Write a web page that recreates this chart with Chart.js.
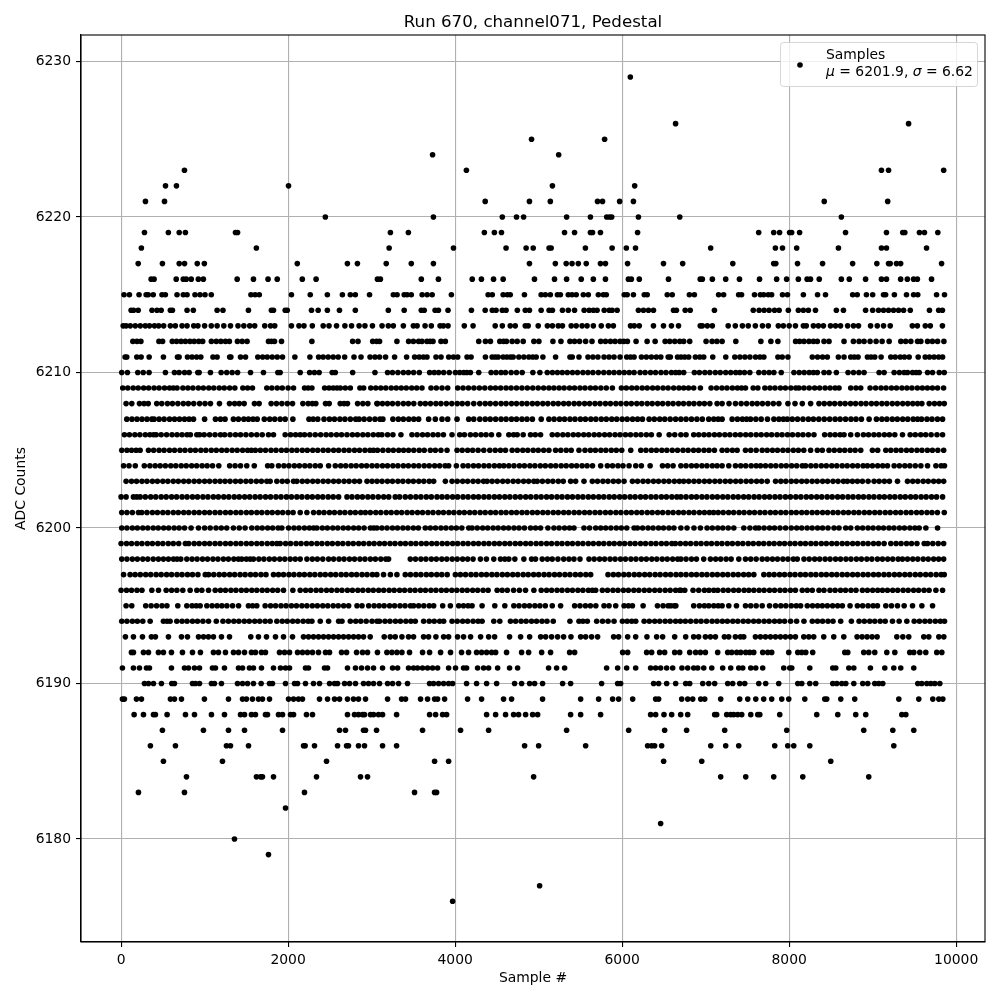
<!DOCTYPE html>
<html><head><meta charset="utf-8">
<style>html,body{margin:0;padding:0;background:#fff}canvas{display:block}</style>
<script src="https://cdn.jsdelivr.net/npm/chart.js@4"></script></head>
<body><canvas id="c" width="1000" height="1000"></canvas>
<script>
const chartTitle = "Run 670, channel071, Pedestal";
const xLabel = "Sample #";
const yLabel = "ADC Counts";
const seriesLabel = "Samples";
const xTicks = [0,2000,4000,6000,8000,10000];
const yTicks = [6180,6190,6200,6210,6220,6230];
// Sample numbers, one array per ADC level
const s6229=[6098];
const s6226=[6640,9430];
const s6225=[4915,5790];
const s6224=[3730,5240];
const s6223=[759,4135,9105,9190,9850];
const s6222=[532,663,2005,5165,6150];
const s6221=[292,520,4360,4890,5140,5705,5765,5970,6135,8420,9180];
const s6220=[2446,3740,4565,4735,4820,5335,5620,5815,5850,5875,6195,6690,8625];
const s6219=[280,566,696,770,1370,1395,3225,3440,4350,4470,4555,5310,5430,5620,5645,5740,6185,7635,7815,7885,8005,8030,8125,8675,9165,9360,9385,9560,9620,9780];
const s6218=[243,1620,3210,3980,4610,4850,4935,5125,5150,5560,5880,6050,6160,7060,7835,7920,8090,8590,9105,9165,9645];
const s6217=[205,495,696,760,912,997,2110,2710,2830,3175,3475,3740,4890,5200,5330,5400,5475,5570,5740,5800,6065,6495,6725,7325,7815,7840,8100,8400,8760,9050,9190,9210,9285,9335,9825];
const s6216=[360,395,660,745,780,840,925,985,1390,1585,1760,1870,2170,2335,3070,3105,3595,3800,4205,4315,4460,4575,4950,5190,5335,5510,5655,5800,6075,6110,6205,6555,6935,6960,7080,7240,7405,7645,7850,7970,8110,8215,8255,8360,8625,8720,8915,9105,9165,9335,9415,9490,9535,9705];
const s6215=[35,100,215,300,325,385,490,530,670,745,790,885,945,1005,1080,1555,1605,1655,2040,2265,2470,2650,2745,2805,2975,3260,3305,3390,3425,3475,3605,3665,3725,3955,4395,4445,4575,4625,4660,4830,5030,5080,5140,5225,5260,5355,5400,5450,5535,5595,5715,5775,5810,6025,6060,6135,6265,6300,6540,6600,6805,6865,7155,7215,7395,7430,7585,7655,7695,7750,7790,7920,7980,8170,8340,8435,8760,8815,8925,9000,9130,9155,9260,9405,9490,9540,9765,9860];
const s6214=[120,150,205,370,430,480,590,615,790,865,1150,1220,1525,1800,1825,1965,1990,2280,2360,2470,2615,2805,3200,3390,3595,3630,3760,3800,3915,4195,4360,4445,4490,4565,4610,4745,4840,4890,5030,5125,5165,5285,5355,5430,5545,5605,5655,5700,5785,5845,5880,5940,6195,6255,6315,6375,6615,6650,6755,6815,7105,7570,7640,7700,7760,7825,7880,7990,8110,8170,8230,8315,8565,8650,8915,9000,9070,9130,9190,9250,9310,9370,9450,9680,9790,9835];
const s6213=[25,60,110,170,230,290,340,400,450,510,590,650,730,790,870,920,1000,1080,1150,1230,1310,1400,1470,1540,1600,1720,1790,1840,2040,2130,2190,2290,2420,2490,2580,2680,2760,2850,2920,3010,3125,3200,3260,3380,3500,3545,3640,3715,3820,3860,3915,4110,4215,4480,4565,4660,4720,4840,4875,4995,5105,5165,5235,5285,5390,5450,5520,5580,5655,5750,5835,5895,6100,6145,6205,6375,6495,6590,6675,6935,6960,7020,7080,7270,7355,7440,7510,7595,7680,7750,7870,7930,8000,8075,8170,8205,8290,8350,8410,8495,8555,8615,8700,8770,8830,8975,9055,9130,9210,9475,9535,9630,9690,9835];
const s6212=[141,190,237,453,497,613,665,718,770,825,875,930,977,1081,1140,1195,1250,1297,1393,1450,1509,1765,1800,1837,1921,2285,2773,2837,3013,3060,3095,3303,3443,3500,3563,3603,3663,3700,3735,3831,3883,4283,4363,4423,4535,4580,4615,4683,4743,4815,4943,5003,5171,5267,5375,5430,5490,5563,5639,5743,5800,5860,5915,5975,6020,6063,6167,6299,6395,6515,6570,6630,6690,6737,6809,7005,7077,7135,7197,7361,7661,7781,7865,8077,8125,8177,8237,8290,8337,8417,8477,8657,8769,8837,8897,8969,9041,9113,9197,9337,9395,9457,9537,9577,9657,9715,9777,9853];
const s6211=[48,68,188,240,336,507,675,695,795,850,905,955,1100,1150,1300,1315,1430,1490,1637,1695,1750,1810,1870,1933,2081,2261,2365,2420,2480,2540,2600,2677,2789,2873,2981,3040,3095,3167,3275,3419,3515,3570,3620,3663,3771,3831,3923,3980,4031,4143,4191,4363,4443,4480,4515,4575,4620,4663,4695,4763,4823,4883,4930,4971,5051,5203,5375,5403,5483,5591,5650,5710,5783,5843,5903,5975,6055,6100,6143,6231,6290,6350,6410,6463,6551,6577,6663,6705,6750,6797,6877,6930,6977,7085,7241,7349,7410,7470,7530,7597,7650,7697,7865,7917,7985,8277,8340,8400,8457,8589,8657,8737,8780,8825,8937,8980,9025,9101,9217,9270,9330,9380,9437,9545,9629,9680,9735,9790,9837];
const s6210=[8,76,200,265,335,531,639,695,760,815,919,935,1070,1198,1265,1330,1395,1550,1705,1877,1905,2145,2258,2315,2372,2528,2565,2773,3040,3191,3250,3315,3380,3440,3503,3571,3695,3750,3803,3863,3930,4003,4055,4103,4140,4183,4283,4431,4490,4550,4603,4671,4735,4803,4931,5015,5103,5165,5225,5283,5343,5405,5465,5530,5590,5650,5715,5780,5843,5903,5965,6025,6085,6143,6215,6275,6340,6400,6465,6525,6590,6640,6683,6737,6865,6925,6990,7050,7115,7175,7240,7300,7360,7410,7465,7529,7637,7700,7760,7817,7905,8057,8120,8180,8240,8290,8337,8417,8477,8565,8705,8770,8835,8897,9077,9137,9257,9320,9377,9417,9477,9520,9557,9657,9717,9797,9857];
const s6209=[20,80,145,205,270,330,395,455,520,580,625,670,740,800,860,925,985,1050,1110,1175,1235,1300,1362,1458,1515,1573,1745,1805,1870,1930,2000,2065,2197,2240,2285,2437,2490,2540,2585,2625,2685,2745,2860,2905,2990,3050,3110,3170,3235,3295,3355,3415,3480,3540,3603,3711,3775,3843,3911,4031,4095,4160,4225,4290,4355,4423,4483,4545,4610,4670,4735,4800,4865,4930,4995,5060,5123,5183,5245,5305,5370,5430,5495,5555,5620,5680,5745,5810,5883,5991,6050,6115,6175,6240,6300,6365,6425,6490,6550,6617,6680,6737,6795,6857,6937,7065,7130,7195,7255,7320,7380,7430,7477,7569,7625,7709,7770,7830,7895,7955,8020,8080,8117,8177,8240,8305,8365,8430,8490,8550,8597,8737,8800,8857,8969,9035,9100,9160,9225,9285,9350,9410,9470,9535,9595,9655,9715,9777,9849];
const s6208=[60,128,220,275,325,427,487,555,615,680,745,805,870,940,1005,1070,1178,1298,1360,1415,1474,1597,1653,1797,1860,1925,1990,2053,2177,2240,2290,2332,2448,2492,2624,2670,2711,2832,2895,2955,3063,3071,3130,3190,3250,3315,3380,3440,3505,3583,3643,3705,3770,3830,3895,3960,4025,4085,4150,4223,4295,4360,4420,4485,4550,4610,4675,4735,4800,4860,4925,4985,5050,5110,5175,5235,5300,5360,5425,5485,5550,5610,5675,5735,5800,5860,5925,5985,6050,6110,6175,6235,6300,6360,6425,6485,6550,6610,6675,6735,6800,6860,6925,6985,7050,7137,7197,7280,7357,7425,7490,7557,7617,7680,7745,7810,7877,7985,8070,8157,8257,8357,8420,8485,8545,8610,8670,8735,8795,8860,8920,8985,9045,9110,9170,9235,9295,9360,9420,9480,9537,9589,9677,9740,9800,9857];
const s6207=[68,130,190,250,310,368,395,455,515,580,640,700,760,815,867,1000,1130,1190,1245,1345,1405,1470,1525,1580,1630,1715,1780,1840,1905,1965,2057,2250,2300,2355,2430,2495,2555,2620,2680,2745,2810,2850,2910,2975,3040,3100,3135,3255,3320,3380,3445,3505,3563,3683,3763,3843,3911,4023,4163,4223,4295,4360,4420,4485,4550,4610,4675,4735,4800,4860,4925,5031,5123,5185,5250,5310,5375,5435,5500,5560,5625,5685,5750,5810,5875,5935,6000,6060,6125,6185,6243,6323,6385,6450,6510,6575,6640,6703,6765,6830,6895,6960,7037,7097,7150,7197,7317,7380,7440,7490,7537,7601,7665,7740,7817,7877,7930,7977,8037,8100,8165,8230,8290,8355,8420,8485,8550,8610,8675,8740,8800,8865,8957,9045,9110,9170,9235,9295,9360,9420,9485,9537,9585,9650,9710,9775,9837];
const s6206=[40,100,165,225,290,345,390,420,480,545,610,670,730,790,830,907,940,995,1060,1125,1190,1240,1305,1370,1430,1495,1560,1625,1690,1765,1825,1965,2030,2090,2145,2197,2260,2325,2390,2455,2515,2580,2640,2705,2770,2830,2895,2955,3020,3080,3123,3191,3255,3351,3483,3545,3610,3670,3735,3795,3860,3963,4055,4111,4183,4245,4310,4370,4435,4523,4643,4700,4743,4815,4903,4960,5023,5163,5225,5290,5350,5415,5475,5540,5600,5665,5725,5790,5850,5915,5975,6040,6100,6165,6225,6290,6350,6443,6563,6630,6703,6765,6857,6917,6980,7040,7105,7165,7230,7290,7355,7415,7480,7540,7605,7665,7730,7790,7855,7915,7980,8040,8105,8165,8230,8297,8425,8490,8550,8610,8657,8737,8817,8889,8950,9015,9075,9140,9200,9265,9357,9449,9510,9575,9635,9700,9770,9837];
const s6205=[8,70,125,180,228,328,390,455,515,580,640,705,765,830,890,955,1015,1080,1140,1205,1265,1330,1390,1455,1515,1560,1608,1668,1730,1795,1855,1920,1980,2045,2105,2170,2230,2295,2355,2420,2480,2545,2605,2670,2730,2795,2855,2920,2980,3023,3071,3135,3200,3260,3325,3383,3443,3505,3570,3630,3703,3763,3830,3903,4023,4085,4150,4210,4275,4343,4415,4480,4543,4603,4683,4745,4810,4870,4935,4995,5060,5123,5203,5265,5330,5390,5483,5555,5620,5680,5745,5805,5870,5930,5995,6103,6223,6285,6350,6410,6475,6535,6600,6663,6729,6790,6855,6915,6980,7040,7105,7197,7257,7320,7377,7477,7540,7605,7677,7737,7800,7860,7925,7985,8050,8110,8175,8257,8337,8397,8477,8540,8605,8665,8730,8790,8857,8997,9060,9157,9217,9280,9340,9405,9465,9530,9590,9655,9715,9780,9850];
const s6204=[30,95,170,278,345,408,468,530,595,655,720,780,845,905,970,1030,1095,1170,1300,1365,1430,1505,1595,1755,1805,1885,1950,2010,2075,2135,2200,2260,2325,2385,2485,2565,2630,2690,2755,2815,2880,2940,3005,3065,3130,3190,3255,3315,3380,3440,3505,3565,3630,3690,3755,3815,3880,3923,4015,4095,4155,4220,4280,4345,4405,4470,4530,4583,4643,4705,4770,4830,4895,4955,5020,5080,5145,5205,5270,5330,5395,5455,5520,5580,5645,5743,5823,5885,5950,6010,6083,6163,6230,6335,6483,6545,6610,6703,6765,6830,6890,6955,7015,7080,7137,7197,7277,7357,7420,7480,7545,7605,7657,7717,7780,7840,7905,7965,8030,8090,8157,8197,8260,8320,8385,8445,8510,8570,8635,8695,8760,8820,8885,8937,8997,9060,9120,9177,9257,9320,9385,9445,9510,9577,9657,9757,9820,9860];
const s6203=[60,125,185,250,310,375,435,500,560,625,685,750,810,875,935,1000,1060,1125,1185,1245,1305,1370,1430,1495,1555,1620,1680,1745,1785,1865,1930,1990,2065,2105,2170,2230,2295,2355,2420,2480,2545,2605,2670,2730,2795,2855,2945,3005,3065,3125,3190,3250,3315,3375,3440,3500,3565,3625,3690,3743,3883,3963,4025,4090,4150,4215,4275,4340,4383,4443,4505,4570,4630,4695,4755,4820,4880,4943,4983,5045,5110,5170,5235,5295,5383,5443,5543,5643,5705,5770,5830,5895,5955,6023,6123,6185,6250,6310,6375,6435,6500,6560,6625,6685,6737,6797,6860,6920,6985,7045,7110,7170,7235,7295,7360,7420,7485,7545,7610,7670,7737,7837,7900,7960,8025,8085,8150,8210,8275,8335,8400,8460,8525,8585,8650,8697,8757,8817,8877,8945,9017,9077,9140,9200,9297,9417,9480,9540,9605,9665,9730,9790,9850];
const s6202=[0,60,148,188,228,290,355,415,480,540,605,665,730,790,855,915,980,1040,1105,1165,1230,1290,1355,1415,1480,1540,1605,1665,1730,1790,1855,1915,1980,2040,2105,2165,2230,2290,2355,2415,2480,2540,2605,2705,2765,2830,2890,2955,3015,3080,3145,3205,3283,3335,3403,3465,3530,3590,3655,3715,3783,3843,3905,3970,4030,4095,4155,4220,4280,4345,4405,4470,4530,4595,4655,4720,4780,4845,4905,4970,5030,5095,5155,5220,5280,5345,5405,5470,5530,5595,5655,5720,5780,5845,5905,5970,6030,6095,6155,6220,6280,6345,6405,6470,6530,6595,6655,6703,6765,6830,6890,6955,7015,7080,7140,7205,7265,7330,7390,7455,7515,7580,7640,7705,7765,7830,7890,7955,8015,8080,8140,8205,8265,8330,8390,8455,8515,8580,8640,8705,8765,8830,8890,8955,9015,9080,9140,9205,9265,9330,9390,9455,9515,9580,9640,9705,9765,9837];
const s6201=[8,70,135,208,248,310,375,435,500,560,625,685,750,810,875,935,1000,1060,1125,1185,1250,1310,1375,1435,1500,1560,1625,1685,1750,1810,1875,1935,2000,2060,2145,2225,2305,2370,2430,2495,2555,2620,2680,2745,2805,2870,2925,2985,3050,3110,3175,3235,3300,3360,3425,3485,3550,3610,3675,3735,3800,3860,3925,3985,4050,4110,4175,4235,4300,4360,4425,4485,4550,4610,4675,4735,4800,4860,4925,4985,5050,5110,5175,5235,5300,5360,5425,5485,5550,5610,5675,5735,5800,5860,5925,5985,6050,6110,6175,6235,6300,6360,6425,6485,6550,6610,6675,6735,6800,6860,6925,6985,7045,7095,7150,7210,7275,7335,7400,7460,7525,7585,7650,7710,7775,7835,7900,7960,8025,8085,8150,8210,8275,8335,8400,8460,8525,8585,8650,8710,8775,8835,8900,8960,9025,9085,9150,9210,9275,9335,9400,9460,9525,9585,9650,9710,9775,9857];
const s6200=[8,70,135,195,260,320,385,445,510,570,635,695,760,838,927,1000,1067,1137,1200,1265,1345,1415,1485,1565,1630,1690,1755,1815,1880,1925,2005,2070,2130,2195,2255,2305,2345,2410,2470,2535,2595,2660,2720,2785,2845,2910,2985,3025,3063,3123,3185,3250,3310,3375,3435,3500,3560,3643,3703,3765,3830,3890,3955,4015,4080,4163,4203,4265,4330,4390,4455,4515,4580,4640,4705,4765,4830,4903,4963,5023,5111,5183,5245,5310,5370,5423,5543,5610,5683,5743,5803,5865,5930,5990,6055,6143,6183,6245,6310,6370,6435,6495,6560,6620,6703,6777,6860,6937,7017,7080,7145,7205,7270,7337,7457,7530,7597,7637,7700,7765,7825,7890,7957,8025,8090,8150,8215,8275,8340,8400,8465,8537,8597,8677,8737,8817,8880,8945,9005,9070,9130,9195,9255,9320,9380,9445,9505,9557,9637,9777];
const s6199=[0,65,125,190,250,315,375,440,500,565,625,690,770,810,875,935,1000,1060,1125,1185,1250,1310,1375,1435,1500,1560,1625,1685,1750,1810,1865,1905,1970,2030,2095,2155,2220,2280,2345,2405,2470,2530,2595,2655,2720,2780,2845,2905,2970,3030,3095,3155,3220,3280,3345,3405,3470,3530,3595,3655,3720,3780,3845,3905,3970,4030,4095,4155,4220,4280,4345,4405,4470,4530,4595,4655,4720,4780,4845,4905,4970,5030,5095,5155,5220,5280,5345,5405,5470,5530,5595,5655,5720,5780,5845,5905,5970,6030,6095,6155,6220,6280,6345,6405,6470,6530,6595,6637,6697,6760,6820,6885,6945,7010,7070,7135,7195,7260,7320,7385,7445,7510,7570,7635,7695,7760,7820,7885,7945,8010,8070,8135,8195,8260,8320,8385,8445,8510,8570,8635,8695,8760,8820,8885,8945,9010,9070,9137,9217,9280,9340,9405,9465,9530,9617,9657,9720,9785,9850];
const s6198=[8,70,135,195,260,320,385,447,507,567,627,670,715,787,850,910,975,1035,1100,1160,1225,1285,1350,1405,1445,1500,1545,1585,1650,1710,1775,1835,1900,1960,2025,2085,2145,2225,2290,2350,2415,2485,2545,2610,2670,2735,2795,2860,2920,2985,3045,3110,3170,3203,3463,3525,3590,3650,3715,3775,3840,3900,3965,4025,4090,4150,4215,4303,4375,4463,4543,4595,4643,4715,4823,4915,4963,5043,5105,5163,5231,5300,5363,5423,5495,5603,5665,5730,5790,5855,5915,5980,6040,6105,6165,6230,6290,6355,6415,6480,6540,6605,6665,6703,6765,6830,6890,6977,7057,7120,7180,7245,7305,7397,7477,7540,7605,7677,7737,7800,7860,7925,7985,8050,8097,8177,8240,8305,8365,8430,8490,8555,8615,8680,8740,8805,8865,8930,8990,9057,9117,9180,9240,9305,9357,9417,9480,9540,9605,9665,9730,9790,9850];
const s6197=[30,108,168,230,295,355,420,480,545,605,670,730,795,855,920,1008,1048,1110,1175,1235,1300,1360,1425,1485,1550,1610,1675,1735,1825,1885,1945,2010,2070,2135,2195,2260,2320,2385,2445,2510,2570,2635,2695,2760,2820,2885,2945,3010,3063,3143,3225,3303,3403,3465,3530,3590,3655,3715,3780,3840,3905,4003,4063,4125,4190,4250,4315,4375,4440,4500,4565,4625,4690,4750,4815,4875,4940,5000,5065,5125,5190,5250,5315,5375,5440,5500,5565,5623,5831,5895,5955,6020,6080,6145,6205,6270,6330,6395,6455,6520,6580,6645,6703,6765,6830,6890,6955,7015,7080,7140,7205,7265,7330,7390,7455,7515,7577,7697,7760,7820,7885,7945,8010,8070,8135,8195,8260,8320,8385,8445,8510,8570,8635,8695,8760,8820,8885,8945,9010,9070,9135,9195,9260,9320,9385,9445,9510,9570,9635,9695,9760,9820,9857];
const s6196=[0,65,125,190,250,368,448,540,605,668,739,827,907,967,1047,1127,1190,1250,1315,1375,1440,1500,1565,1625,1690,1750,1815,1875,1945,2057,2145,2210,2270,2335,2395,2460,2520,2585,2645,2710,2770,2835,2895,2960,3020,3085,3145,3210,3270,3335,3395,3460,3520,3585,3645,3710,3770,3835,3895,3960,4020,4085,4145,4210,4270,4335,4395,4503,4563,4625,4700,4770,4843,4943,5031,5095,5155,5220,5280,5345,5405,5470,5530,5595,5643,5683,5763,5825,5890,5950,6015,6075,6140,6200,6265,6325,6390,6450,6515,6575,6640,6703,6689,6750,6849,6917,6985,7040,7097,7145,7210,7270,7335,7395,7460,7517,7577,7640,7700,7765,7825,7890,7950,8015,8075,8157,8217,8277,8357,8417,8489,8550,8615,8675,8740,8800,8877,8937,9000,9060,9117,9177,9240,9300,9365,9425,9490,9550,9615,9675,9757,9837];
const s6195=[60,128,295,360,425,490,549,679,787,850,900,947,1027,1090,1150,1207,1267,1335,1407,1525,1575,1625,1725,1790,1850,1915,1975,2040,2100,2165,2225,2290,2350,2415,2475,2540,2600,2665,2725,2825,2885,2965,3030,3090,3150,3215,3275,3340,3400,3465,3503,3563,3625,3690,3743,3851,3943,4043,4100,4155,4203,4323,4475,4595,4703,4765,4830,4890,4955,5015,5080,5163,5263,5431,5495,5560,5620,5685,5783,5843,5923,6023,6075,6123,6251,6423,6490,6550,6583,6625,6643,6857,6925,6985,7037,7097,7150,7197,7277,7369,7477,7540,7605,7677,7765,7837,7900,7960,8025,8085,8137,8217,8280,8340,8397,8457,8520,8580,8637,8729,8817,8880,8945,9005,9057,9157,9225,9297,9377,9477,9589,9717];
const s6194=[8,70,135,195,260,348,507,550,587,667,730,790,855,915,980,1047,1140,1220,1285,1350,1410,1475,1535,1600,1660,1725,1785,1865,1930,1990,2055,2115,2180,2240,2285,2385,2485,2605,2645,2745,2810,2870,2935,3005,3065,3095,3160,3220,3285,3345,3410,3470,3523,3623,3690,3750,3815,3863,3963,4025,4090,4150,4215,4275,4323,4463,4535,4663,4725,4790,4850,4915,4975,5040,5100,5175,5375,5483,5530,5583,5695,5765,5831,5903,6003,6060,6115,6163,6263,6325,6390,6450,6515,6575,6640,6697,6757,6820,6885,6945,7010,7077,7137,7200,7260,7325,7385,7450,7510,7575,7635,7700,7760,7825,7885,7945,8017,8089,8177,8277,8340,8400,8465,8525,8617,8745,8837,8900,8965,9025,9090,9150,9237,9317,9409,9497,9560,9625,9685,9750,9810,9860];
const s6193=[52,148,256,363,411,567,723,795,927,987,1046,1106,1202,1298,1553,1645,1741,1849,1945,2053,2184,2244,2304,2364,2424,2484,2544,2604,2664,2724,2784,2843,2903,2983,3151,3223,3283,3363,3442,3502,3622,3682,3770,3862,3922,4029,4101,4185,4305,4401,4473,4652,4784,4892,5024,5084,5155,5227,5299,5387,5503,5563,5634,5706,5898,5958,6066,6162,6297,6413,6485,6629,6761,6856,6916,6997,7057,7117,7224,7276,7356,7416,7456,7596,7656,7716,7776,7836,7895,7955,8015,8075,8175,8235,8294,8414,8534,8654,8813,8873,8933,8993,9053,9289,9361,9432,9612,9672,9792,9852];
const s6192=[124,148,268,328,447,507,603,735,855,950,1106,1166,1250,1346,1406,1478,1561,1609,1681,1729,1897,1957,2017,2113,2172,2232,2292,2364,2448,2496,2640,2700,2820,2891,2951,3070,3183,3243,3303,3363,3454,3610,3694,3826,3945,4077,4161,4257,4317,4377,4437,4485,4616,4796,4880,5036,5143,5371,5431,6006,6066,6293,6353,6449,6509,6629,6689,6809,6880,6937,6997,7144,7264,7312,7372,7420,7480,7528,7576,7683,7743,7791,7995,8103,8151,8199,8282,8666,8702,8893,8953,9025,9169,9265,9444,9492,9564,9636,9767,9828];
const s6191=[16,148,220,304,340,603,759,807,879,939,1094,1130,1238,1406,1454,1537,1585,1681,1825,1909,1969,2017,2208,2244,2436,2472,2711,2807,2879,2951,3023,3131,3251,3311,3442,3502,3550,3610,3670,3730,3790,3922,4005,4101,4137,4269,4341,4401,4509,4652,4748,5119,5215,5311,5814,5946,6054,6162,6341,6401,6461,6533,6605,6716,6785,6857,6905,6977,7073,7204,7300,7396,7444,7540,7600,7683,7935,8007,8031,8247,8522,8558,8714,8774,8973,9145,9253,9336,9492];
const s6190=[280,328,388,483,607,639,855,891,939,1082,1118,1202,1394,1454,1514,1585,1677,1777,1813,1969,2077,2113,2208,2304,2376,2496,2556,2592,2676,2736,2807,2903,2963,3023,3095,3191,3251,3323,3430,3694,3742,3802,3862,3922,3970,4137,4257,4377,4497,4712,4796,4892,4952,5047,5287,5383,5754,5946,5982,6377,6437,6533,6641,6761,6809,6965,7037,7108,7264,7324,7408,7468,7636,7719,7875,8103,8151,8247,8318,8522,8570,8630,8678,8774,8881,8941,9025,9073,9121,9540,9588,9648,9696,9744,9804];
const s6189=[16,40,184,244,591,639,723,998,1286,1454,1501,1573,1645,1693,1777,2005,2065,2124,2172,2376,2472,2556,2616,2711,2783,2843,2927,3191,3359,3406,3586,3670,3754,3790,3874,4149,4317,4580,4676,5047,5503,5718,5886,5958,6126,6401,6437,6713,6785,6845,6941,6989,7180,7408,7504,7600,7695,7791,7911,7995,8187,8426,8450,8618,8785,9313,9552,9720,9792,9840];
const s6188=[156,268,388,411,551,771,879,1082,1238,1430,1478,1561,1609,1729,1753,1885,1933,2029,2065,2220,2292,2711,2795,2843,2891,2915,2987,3023,3083,3131,3299,3694,3766,3850,3898,4377,4485,4604,4700,4760,4844,4928,4988,5383,5503,5742,6341,6401,6501,6593,6701,6785,7108,7132,7252,7300,7336,7384,7432,7540,7624,7648,7887,8330,8582,8797,8917,9349,9397];
const s6187=[495,986,1286,1478,1933,2616,2687,2903,2927,3059,3610,4065,4401,5335,6078,6509,6772,7228,7971,8893,9241,9492];
const s6186=[351,651,1262,1310,1526,2185,2204,2316,2592,2700,2723,2843,2915,3131,3299,4832,5000,5563,6305,6353,6389,6473,7061,7240,7396,7827,7983,8055,8247,9253];
const s6185=[507,1214,2460,3754,3922,6497,6953,8498];
const s6184=[783,1621,1670,1693,1825,2340,2867,2951,4940,7180,7480,7815,8163,8953];
const s6183=[208,759,2196,3514,3754,3778];
const s6182=[1969];
const s6181=[6461];
const s6180=[1358];
const s6179=[1765];
const s6177=[5012];
const s6176=[3970];

const levels=[[6229,s6229],[6226,s6226],[6225,s6225],[6224,s6224],[6223,s6223],[6222,s6222],[6221,s6221],[6220,s6220],[6219,s6219],[6218,s6218],[6217,s6217],[6216,s6216],[6215,s6215],[6214,s6214],[6213,s6213],[6212,s6212],[6211,s6211],[6210,s6210],[6209,s6209],[6208,s6208],[6207,s6207],[6206,s6206],[6205,s6205],[6204,s6204],[6203,s6203],[6202,s6202],[6201,s6201],[6200,s6200],[6199,s6199],[6198,s6198],[6197,s6197],[6196,s6196],[6195,s6195],[6194,s6194],[6193,s6193],[6192,s6192],[6191,s6191],[6190,s6190],[6189,s6189],[6188,s6188],[6187,s6187],[6186,s6186],[6185,s6185],[6184,s6184],[6183,s6183],[6182,s6182],[6181,s6181],[6180,s6180],[6179,s6179],[6177,s6177],[6176,s6176]];
const points=[];
levels.forEach(([y,xs])=>xs.forEach(x=>points.push({x,y})));

const FONT='"DejaVu Sans"';
const frameAndLegend={
  id:'frameAndLegend',
  afterDatasetsDraw(chart){
    const c=chart.ctx,a=chart.chartArea;
    c.save();
    c.strokeStyle='#000';c.lineWidth=1.1;
    c.strokeRect(a.left,a.top,a.right-a.left,a.bottom-a.top);
    const bx=780.5,by=42.5,bw=197,bh=44,r=3;
    c.beginPath();c.roundRect(bx,by,bw,bh,r);
    c.fillStyle='rgba(255,255,255,0.8)';c.fill();
    c.strokeStyle='rgba(204,204,204,0.8)';c.lineWidth=1;c.stroke();
    c.fillStyle='#000';
    c.beginPath();c.arc(800,65,2.8,0,Math.PI*2);c.fill();
    c.textBaseline='alphabetic';c.textAlign='left';
    c.font='13.9px '+FONT;
    c.fillText(seriesLabel,826,59);
    let x=826;const y=76;
    [['μ',1],[' = 6201.9, ',0],['σ',1],[' = 6.62',0]].forEach(([t,it])=>{
      c.font=(it?'italic ':'')+'13.9px '+FONT;
      c.fillText(t,x,y);x+=c.measureText(t).width;
    });
    c.restore();
  }
};
new Chart(document.getElementById('c'),{
  type:'scatter',
  data:{datasets:[{label:seriesLabel,data:points,backgroundColor:'#000',borderColor:'#000',pointRadius:2.8,pointBorderWidth:0,pointHoverRadius:2.8}]},
  plugins:[frameAndLegend],
  options:{
    responsive:false,animation:false,
    events:[],
    layout:{padding:{left:0,right:15,top:0,bottom:0}},
    plugins:{
      legend:{display:false},tooltip:{enabled:false},
      title:{display:true,text:chartTitle,fullSize:false,color:'#000',font:{family:FONT,size:16.67,weight:'normal'},padding:{top:13,bottom:2}}
    },
    scales:{
      x:{type:'linear',min:-480,max:10345,
        afterBuildTicks(s){s.ticks=xTicks.map(v=>({value:v}));},
        afterFit(s){s.height=58;},
        ticks:{color:'#000',font:{family:FONT,size:13.9},padding:5,maxRotation:0,autoSkip:false,callback:v=>String(v)},
        grid:{color:'#b0b0b0',lineWidth:1.1,tickColor:'#000',tickLength:5,tickWidth:1.1},
        border:{color:'#000',width:1.1},
        title:{display:true,text:xLabel,color:'#000',font:{family:FONT,size:13.9,weight:'normal'},padding:{top:4,bottom:13}}
      },
      y:{type:'linear',min:6173.38,max:6231.7,
        afterBuildTicks(s){s.ticks=yTicks.map(v=>({value:v}));},
        afterFit(s){s.width=81;},
        ticks:{color:'#000',font:{family:FONT,size:13.9},padding:5,autoSkip:false,callback:v=>String(v)},
        grid:{color:'#b0b0b0',lineWidth:1.1,tickColor:'#000',tickLength:5,tickWidth:1.1},
        border:{color:'#000',width:1.1},
        title:{display:true,text:yLabel,color:'#000',font:{family:FONT,size:13.9,weight:'normal'},padding:{top:13,bottom:4}}
      }
    }
  }
});
</script></body></html>
